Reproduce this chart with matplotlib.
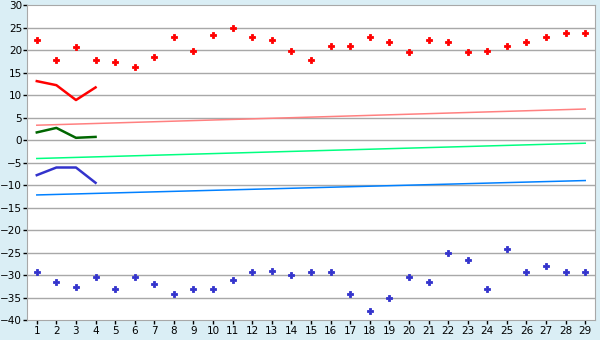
import matplotlib.pyplot as plt
import numpy as np

days = np.arange(1, 30)

# upper points (red diamonds)
high = [22.2, 17.9, 20.6, 17.9, 17.3, 16.2, 18.4, 22.8, 19.9, 23.3,
        25.0, 22.8, 22.2, 19.9, 17.9, 21.0, 21.0, 22.8, 21.7, 19.5,
        22.2, 21.7, 19.5, 19.9, 21.0, 21.7, 22.8, 23.9, 23.9]
# lower points (blue diamonds)
low = [-29.4, -31.6, -32.7, -30.5, -33.2, -30.5, -32.1, -34.3, -33.2, -33.2,
       -31.0, -29.4, -29.0, -30.1, -29.4, -29.4, -34.3, -37.9, -35.0, -30.5,
       -31.6, -25.0, -26.7, -33.2, -24.3, -29.4, -27.9, -29.4, -29.4]

# short lines over the first four days
short_x = [1, 2, 3, 4]
red_line = [13.1, 12.2, 8.9, 11.7]
green_line = [1.7, 2.7, 0.5, 0.7]
blue_line = [-7.8, -6.1, -6.1, -9.5]

# trend lines (start and end values)
trend_x = [1, 29]
trend_red = [3.3, 6.9]
trend_green = [-4.1, -0.7]
trend_blue = [-12.2, -9.0]

fig = plt.figure(figsize=(6, 3.4), dpi=100)
fig.patch.set_facecolor("#DAEEF5")
ax = fig.add_axes([0.045, 0.0588, 0.9467, 0.9262])
ax.set_facecolor("white")

for v in range(-35, 30, 5):
    ax.axhline(v, color="#A8A8A8", lw=1.0, zorder=0)

ax.plot(trend_x, trend_red, color="#FF8080", lw=1.1)
ax.plot(trend_x, trend_green, color="#00FF80", lw=1.1)
ax.plot(trend_x, trend_blue, color="#0080FF", lw=1.1)

ax.plot(short_x, red_line, color="#FF0000", lw=1.8)
ax.plot(short_x, green_line, color="#006600", lw=1.8)
ax.plot(short_x, blue_line, color="#3333CC", lw=1.8)

ax.plot(days, high, linestyle="none", marker="P", ms=5, mew=0.6, color="#FF0000")
ax.plot(days, low, linestyle="none", marker="P", ms=5, mew=0.6, color="#3333CC")

ax.set_xlim(0.5, 29.5)
ax.set_ylim(-40, 30)
ax.set_xticks(days)
ax.set_yticks(range(-40, 31, 5))
ax.tick_params(labelsize=7.5, color="black", length=3, width=1, pad=1.5)
ax.tick_params(axis="y", pad=0.5)

for side in ["left", "bottom", "top", "right"]:
    ax.spines[side].set_color("#A8A8A8")

fig.savefig("out.png", dpi=100, facecolor=fig.get_facecolor())
